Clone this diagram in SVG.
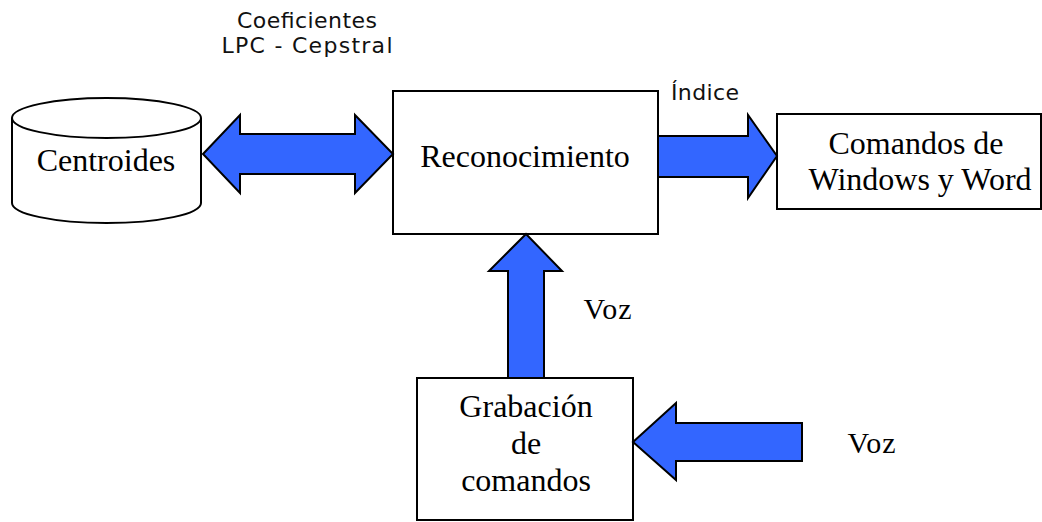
<svg xmlns="http://www.w3.org/2000/svg" width="1042" height="522" viewBox="0 0 1042 522">
<style>
.box{fill:#fff;stroke:#000;stroke-width:2}
.arr{fill:#3366ff;stroke:#000;stroke-width:2;stroke-linejoin:miter}
.serif{font-family:"Liberation Serif","Times New Roman",serif;font-size:32px;fill:#000}
.voz{font-family:"Liberation Serif","Times New Roman",serif;font-size:30px;fill:#000;letter-spacing:1px}
.sans{font-family:"DejaVu Sans",Verdana,sans-serif;font-size:22px;fill:#111}
</style>
<rect width="1042" height="522" fill="#fff"/>
<g id="centroides">
<path class="box" d="M12,118 L12,203 A94.5,20 0 0 0 201,203 L201,118"/>
<ellipse class="box" cx="106.5" cy="118" rx="94.5" ry="20"/>
<text class="serif" x="106" y="171" text-anchor="middle">Centroides</text>
</g>
<g id="reconocimiento">
<rect class="box" x="393" y="91" width="265" height="143"/>
<text class="serif" x="525" y="167" text-anchor="middle">Reconocimiento</text>
</g>
<g id="comandos">
<rect class="box" x="777" y="114" width="264" height="95"/>
<text class="serif" x="916" y="154" text-anchor="middle">Comandos de</text>
<text class="serif" x="920" y="190" text-anchor="middle">Windows y Word</text>
</g>
<g id="grabacion">
<rect class="box" x="417" y="378" width="216" height="142"/>
<text class="serif" x="526" y="417" text-anchor="middle">Grabación</text>
<text class="serif" x="526" y="454" text-anchor="middle">de</text>
<text class="serif" x="526" y="491" text-anchor="middle">comandos</text>
</g>
<g id="connectors">
<path class="arr" d="M203,154 L240,115 L240,134 L355,134 L355,115 L393,154 L355,193 L355,174 L240,174 L240,193 Z"/>
<path class="arr" d="M658,136 L748,136 L748,115 L777,156 L748,198 L748,177 L658,177 Z"/>
<path class="arr" d="M526,234 L562,271 L544,271 L544,378 L508,378 L508,271 L489,271 Z"/>
<path class="arr" d="M633,442 L676,403 L676,423 L802,423 L802,461 L676,461 L676,480 Z"/>
</g>
<g id="labels">
<text class="sans" x="307" y="28" text-anchor="middle" textLength="140" lengthAdjust="spacing">Coeficientes</text>
<text class="sans" x="307" y="53" text-anchor="middle" textLength="171" lengthAdjust="spacing">LPC - Cepstral</text>
<text class="sans" x="705" y="100" text-anchor="middle" textLength="68" lengthAdjust="spacing">Índice</text>
<text class="voz" x="608" y="319" text-anchor="middle">Voz</text>
<text class="voz" x="872" y="453" text-anchor="middle">Voz</text>
</g>
</svg>
